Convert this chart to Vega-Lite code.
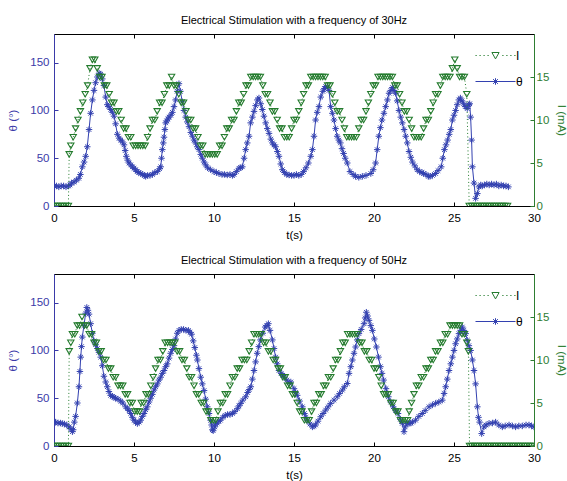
{
"$schema": "https://vega.github.io/schema/vega-lite/v6.json",
"background": "white",
"padding": {"left": 7, "top": 14, "right": 0, "bottom": 0},
"spacing": 13,
"datasets": {
"leg": [{"s": "I"}, {"s": "θ"}],
"th30": [{"t":0,"a":21},{"t":0.15,"a":21},{"t":0.3,"a":20},{"t":0.45,"a":21},{"t":0.6,"a":21},{"t":0.75,"a":20},{"t":0.9,"a":21},{"t":1.0,"a":22},{"t":1.1,"a":24},{"t":1.25,"a":25},{"t":1.4,"a":27},{"t":1.55,"a":29},{"t":1.65,"a":33},{"t":1.77,"a":41},{"t":1.88,"a":46},{"t":1.98,"a":52},{"t":2.08,"a":62},{"t":2.19,"a":80},{"t":2.29,"a":97},{"t":2.4,"a":111},{"t":2.5,"a":121},{"t":2.6,"a":129},{"t":2.71,"a":135},{"t":2.82,"a":139},{"t":2.92,"a":138},{"t":3.02,"a":133},{"t":3.12,"a":126},{"t":3.23,"a":114},{"t":3.33,"a":106},{"t":3.43,"a":104},{"t":3.54,"a":101},{"t":3.65,"a":98},{"t":3.75,"a":94},{"t":3.85,"a":86},{"t":3.96,"a":75},{"t":4.07,"a":71},{"t":4.17,"a":69},{"t":4.28,"a":67},{"t":4.375,"a":64},{"t":4.45,"a":58},{"t":4.52,"a":52},{"t":4.6,"a":48},{"t":4.69,"a":45},{"t":4.8,"a":43},{"t":4.9,"a":41},{"t":5.0,"a":39.5},{"t":5.1,"a":38},{"t":5.2,"a":36},{"t":5.3,"a":35},{"t":5.42,"a":34},{"t":5.55,"a":33},{"t":5.65,"a":32},{"t":5.73,"a":31},{"t":5.85,"a":32},{"t":6.0,"a":32},{"t":6.15,"a":33},{"t":6.3,"a":35},{"t":6.46,"a":36},{"t":6.6,"a":39},{"t":6.67,"a":41},{"t":6.72,"a":50},{"t":6.77,"a":59},{"t":6.83,"a":66},{"t":6.875,"a":72},{"t":6.93,"a":80},{"t":6.98,"a":87},{"t":7.05,"a":89},{"t":7.12,"a":91},{"t":7.19,"a":93},{"t":7.3,"a":95},{"t":7.4,"a":98},{"t":7.5,"a":104},{"t":7.6,"a":111},{"t":7.7,"a":120},{"t":7.81,"a":128},{"t":7.9,"a":120},{"t":8.02,"a":109},{"t":8.12,"a":100},{"t":8.23,"a":93},{"t":8.33,"a":88},{"t":8.44,"a":83},{"t":8.55,"a":77},{"t":8.65,"a":73},{"t":8.75,"a":69},{"t":8.85,"a":66},{"t":8.95,"a":62},{"t":9.06,"a":59},{"t":9.17,"a":54},{"t":9.27,"a":50},{"t":9.38,"a":46},{"t":9.48,"a":43},{"t":9.6,"a":40},{"t":9.79,"a":38},{"t":10.0,"a":36},{"t":10.15,"a":35},{"t":10.31,"a":34},{"t":10.5,"a":33},{"t":10.65,"a":33},{"t":10.83,"a":32.5},{"t":11.0,"a":33},{"t":11.15,"a":32},{"t":11.25,"a":33},{"t":11.4,"a":36},{"t":11.56,"a":39.5},{"t":11.67,"a":40},{"t":11.77,"a":41},{"t":11.88,"a":50},{"t":11.98,"a":59},{"t":12.08,"a":66},{"t":12.19,"a":73},{"t":12.29,"a":87},{"t":12.4,"a":93},{"t":12.5,"a":99},{"t":12.6,"a":105},{"t":12.71,"a":111},{"t":12.81,"a":113},{"t":12.92,"a":107},{"t":13.02,"a":101},{"t":13.12,"a":94},{"t":13.23,"a":87},{"t":13.33,"a":81},{"t":13.44,"a":76},{"t":13.55,"a":70},{"t":13.65,"a":66},{"t":13.75,"a":64},{"t":13.85,"a":62},{"t":13.96,"a":57},{"t":14.06,"a":52},{"t":14.17,"a":44},{"t":14.27,"a":38},{"t":14.4,"a":35},{"t":14.55,"a":33},{"t":14.69,"a":32.5},{"t":14.85,"a":32},{"t":15.0,"a":32},{"t":15.15,"a":33},{"t":15.3,"a":32},{"t":15.45,"a":33},{"t":15.6,"a":36},{"t":15.75,"a":40},{"t":15.9,"a":45},{"t":16.05,"a":52},{"t":16.15,"a":59},{"t":16.25,"a":73},{"t":16.35,"a":90},{"t":16.45,"a":98},{"t":16.56,"a":104},{"t":16.67,"a":114},{"t":16.8,"a":120},{"t":16.9,"a":123},{"t":16.98,"a":125},{"t":17.08,"a":124},{"t":17.19,"a":121},{"t":17.29,"a":104},{"t":17.4,"a":97},{"t":17.5,"a":90},{"t":17.6,"a":81},{"t":17.7,"a":73},{"t":17.8,"a":69},{"t":17.9,"a":66},{"t":18.0,"a":60},{"t":18.1,"a":55},{"t":18.2,"a":50},{"t":18.33,"a":45},{"t":18.5,"a":36},{"t":18.7,"a":33},{"t":18.85,"a":31},{"t":19.05,"a":30},{"t":19.27,"a":31},{"t":19.5,"a":32},{"t":19.8,"a":34},{"t":19.95,"a":38},{"t":20.1,"a":45},{"t":20.2,"a":59},{"t":20.3,"a":73},{"t":20.4,"a":82},{"t":20.5,"a":90},{"t":20.62,"a":97},{"t":20.73,"a":104},{"t":20.84,"a":111},{"t":20.94,"a":118},{"t":21.05,"a":121},{"t":21.15,"a":124},{"t":21.25,"a":121},{"t":21.35,"a":118},{"t":21.45,"a":110},{"t":21.56,"a":100},{"t":21.67,"a":93},{"t":21.77,"a":87},{"t":21.88,"a":80},{"t":21.98,"a":73},{"t":22.08,"a":66},{"t":22.19,"a":57},{"t":22.3,"a":51},{"t":22.4,"a":46},{"t":22.55,"a":42},{"t":22.7,"a":38},{"t":22.85,"a":36},{"t":23.0,"a":35},{"t":23.1,"a":34},{"t":23.25,"a":33},{"t":23.4,"a":31},{"t":23.5,"a":31},{"t":23.65,"a":32},{"t":23.85,"a":34},{"t":24.0,"a":37},{"t":24.2,"a":41},{"t":24.3,"a":50},{"t":24.4,"a":59},{"t":24.5,"a":64},{"t":24.6,"a":69},{"t":24.7,"a":75},{"t":24.8,"a":80},{"t":24.9,"a":90},{"t":25.0,"a":95},{"t":25.1,"a":100},{"t":25.2,"a":106},{"t":25.3,"a":111},{"t":25.4,"a":113},{"t":25.5,"a":110},{"t":25.6,"a":107},{"t":25.7,"a":104},{"t":25.83,"a":102},{"t":25.93,"a":106},{"t":25.98,"a":107},{"t":26.04,"a":93},{"t":26.1,"a":69},{"t":26.15,"a":41},{"t":26.25,"a":24},{"t":26.35,"a":8},{"t":26.46,"a":13},{"t":26.56,"a":20},{"t":26.67,"a":22},{"t":26.77,"a":21},{"t":26.9,"a":22},{"t":27.05,"a":23},{"t":27.2,"a":22},{"t":27.35,"a":23},{"t":27.5,"a":22},{"t":27.65,"a":23},{"t":27.8,"a":21},{"t":27.95,"a":22},{"t":28.1,"a":21},{"t":28.25,"a":21},{"t":28.4,"a":20}],
"i30": [{"t":0,"i":0},{"t":0.15,"i":0},{"t":0.3,"i":0},{"t":0.45,"i":0},{"t":0.6,"i":0},{"t":0.75,"i":0},{"t":0.9,"i":0},{"t":0.95,"i":6},{"t":1.05,"i":7},{"t":1.2,"i":8},{"t":1.35,"i":9},{"t":1.5,"i":10},{"t":1.65,"i":11},{"t":1.8,"i":12},{"t":1.95,"i":13},{"t":2.1,"i":14},{"t":2.25,"i":16},{"t":2.4,"i":17},{"t":2.55,"i":17},{"t":2.7,"i":16},{"t":2.85,"i":15},{"t":3.0,"i":15},{"t":3.15,"i":14},{"t":3.3,"i":14},{"t":3.45,"i":13},{"t":3.6,"i":12},{"t":3.75,"i":12},{"t":3.9,"i":11},{"t":4.05,"i":11},{"t":4.2,"i":10},{"t":4.35,"i":9},{"t":4.5,"i":9},{"t":4.65,"i":8},{"t":4.8,"i":8},{"t":4.95,"i":7},{"t":5.1,"i":7},{"t":5.25,"i":7},{"t":5.4,"i":7},{"t":5.55,"i":7},{"t":5.7,"i":7},{"t":5.85,"i":8},{"t":6.0,"i":9},{"t":6.15,"i":10},{"t":6.3,"i":10},{"t":6.45,"i":11},{"t":6.6,"i":12},{"t":6.75,"i":12},{"t":6.9,"i":13},{"t":7.05,"i":14},{"t":7.2,"i":14},{"t":7.35,"i":15},{"t":7.5,"i":14},{"t":7.65,"i":14},{"t":7.8,"i":13},{"t":7.95,"i":12},{"t":8.1,"i":12},{"t":8.25,"i":11},{"t":8.4,"i":10},{"t":8.55,"i":10},{"t":8.7,"i":9},{"t":8.85,"i":9},{"t":9.0,"i":8},{"t":9.15,"i":7},{"t":9.3,"i":7},{"t":9.45,"i":6},{"t":9.6,"i":6},{"t":9.75,"i":6},{"t":9.9,"i":6},{"t":10.05,"i":6},{"t":10.2,"i":6},{"t":10.35,"i":7},{"t":10.5,"i":7},{"t":10.65,"i":8},{"t":10.8,"i":9},{"t":10.95,"i":9},{"t":11.1,"i":10},{"t":11.25,"i":10},{"t":11.4,"i":11},{"t":11.55,"i":12},{"t":11.7,"i":12},{"t":11.85,"i":13},{"t":12.0,"i":14},{"t":12.15,"i":14},{"t":12.3,"i":15},{"t":12.45,"i":15},{"t":12.6,"i":15},{"t":12.75,"i":15},{"t":12.9,"i":15},{"t":13.05,"i":14},{"t":13.2,"i":13},{"t":13.35,"i":13},{"t":13.5,"i":12},{"t":13.65,"i":11},{"t":13.8,"i":11},{"t":13.95,"i":10},{"t":14.1,"i":9},{"t":14.25,"i":9},{"t":14.4,"i":8},{"t":14.55,"i":8},{"t":14.7,"i":8},{"t":14.85,"i":9},{"t":15.0,"i":10},{"t":15.15,"i":10},{"t":15.3,"i":11},{"t":15.45,"i":12},{"t":15.6,"i":13},{"t":15.75,"i":14},{"t":15.9,"i":14},{"t":16.05,"i":15},{"t":16.2,"i":15},{"t":16.35,"i":15},{"t":16.5,"i":15},{"t":16.65,"i":15},{"t":16.8,"i":15},{"t":16.95,"i":15},{"t":17.1,"i":14},{"t":17.25,"i":14},{"t":17.4,"i":13},{"t":17.55,"i":12},{"t":17.7,"i":11},{"t":17.85,"i":11},{"t":18.0,"i":10},{"t":18.15,"i":9},{"t":18.3,"i":8},{"t":18.45,"i":8},{"t":18.6,"i":8},{"t":18.75,"i":8},{"t":18.9,"i":8},{"t":19.05,"i":9},{"t":19.2,"i":10},{"t":19.35,"i":10},{"t":19.5,"i":11},{"t":19.65,"i":12},{"t":19.8,"i":13},{"t":19.95,"i":14},{"t":20.1,"i":14},{"t":20.25,"i":15},{"t":20.4,"i":15},{"t":20.55,"i":15},{"t":20.7,"i":15},{"t":20.85,"i":15},{"t":21.0,"i":15},{"t":21.15,"i":15},{"t":21.3,"i":14},{"t":21.45,"i":14},{"t":21.6,"i":13},{"t":21.75,"i":12},{"t":21.9,"i":11},{"t":22.05,"i":11},{"t":22.2,"i":10},{"t":22.35,"i":9},{"t":22.5,"i":8},{"t":22.65,"i":8},{"t":22.8,"i":8},{"t":22.95,"i":8},{"t":23.1,"i":9},{"t":23.25,"i":10},{"t":23.4,"i":10},{"t":23.55,"i":11},{"t":23.7,"i":12},{"t":23.85,"i":13},{"t":24.0,"i":13},{"t":24.15,"i":14},{"t":24.3,"i":15},{"t":24.45,"i":15},{"t":24.6,"i":15},{"t":24.75,"i":15},{"t":24.9,"i":16},{"t":25.05,"i":17},{"t":25.2,"i":16},{"t":25.35,"i":15},{"t":25.5,"i":15},{"t":25.65,"i":15},{"t":25.8,"i":13},{"t":25.95,"i":0},{"t":26.1,"i":0},{"t":26.25,"i":0},{"t":26.4,"i":0},{"t":26.55,"i":0},{"t":26.7,"i":0},{"t":26.85,"i":0},{"t":27.0,"i":0},{"t":27.15,"i":0},{"t":27.3,"i":0},{"t":27.45,"i":0},{"t":27.6,"i":0},{"t":27.75,"i":0},{"t":27.9,"i":0},{"t":28.05,"i":0},{"t":28.2,"i":0},{"t":28.35,"i":0}],
"th50": [{"t":0,"a":25},{"t":0.1,"a":25},{"t":0.25,"a":24},{"t":0.4,"a":24},{"t":0.52,"a":23.5},{"t":0.65,"a":23},{"t":0.8,"a":22},{"t":0.94,"a":20},{"t":1.05,"a":18},{"t":1.15,"a":15},{"t":1.2,"a":17},{"t":1.27,"a":25},{"t":1.35,"a":31},{"t":1.46,"a":45},{"t":1.56,"a":62},{"t":1.62,"a":78},{"t":1.67,"a":93},{"t":1.72,"a":104},{"t":1.77,"a":114},{"t":1.87,"a":126},{"t":1.98,"a":139},{"t":2.05,"a":145},{"t":2.12,"a":142},{"t":2.19,"a":138},{"t":2.29,"a":128},{"t":2.4,"a":118},{"t":2.5,"a":110},{"t":2.6,"a":106},{"t":2.71,"a":102},{"t":2.81,"a":98},{"t":2.92,"a":93},{"t":3.02,"a":84},{"t":3.12,"a":73},{"t":3.23,"a":67},{"t":3.33,"a":62},{"t":3.43,"a":57},{"t":3.54,"a":53},{"t":3.65,"a":52},{"t":3.75,"a":51},{"t":3.85,"a":50},{"t":4.0,"a":49},{"t":4.17,"a":47},{"t":4.3,"a":45},{"t":4.48,"a":41},{"t":4.6,"a":39},{"t":4.7,"a":37},{"t":4.79,"a":34},{"t":4.9,"a":30},{"t":5.0,"a":27},{"t":5.1,"a":25},{"t":5.21,"a":23.5},{"t":5.32,"a":25},{"t":5.42,"a":27},{"t":5.52,"a":31},{"t":5.625,"a":34},{"t":5.73,"a":38},{"t":5.83,"a":41},{"t":5.94,"a":46},{"t":6.04,"a":50},{"t":6.15,"a":54},{"t":6.25,"a":58.5},{"t":6.35,"a":62},{"t":6.46,"a":65},{"t":6.56,"a":69},{"t":6.67,"a":72},{"t":6.77,"a":76},{"t":6.875,"a":79},{"t":6.98,"a":83},{"t":7.08,"a":86},{"t":7.19,"a":92},{"t":7.29,"a":97},{"t":7.4,"a":101},{"t":7.5,"a":105},{"t":7.6,"a":112},{"t":7.7,"a":118},{"t":7.81,"a":121},{"t":7.95,"a":122},{"t":8.1,"a":122},{"t":8.25,"a":121},{"t":8.4,"a":121},{"t":8.5,"a":119},{"t":8.6,"a":117},{"t":8.7,"a":110},{"t":8.8,"a":103},{"t":8.9,"a":95},{"t":8.96,"a":90},{"t":9.06,"a":81},{"t":9.17,"a":72},{"t":9.27,"a":65},{"t":9.38,"a":58},{"t":9.48,"a":49},{"t":9.58,"a":41},{"t":9.69,"a":34},{"t":9.79,"a":27},{"t":9.85,"a":22},{"t":9.9,"a":17},{"t":9.95,"a":16},{"t":10.05,"a":20},{"t":10.1,"a":23},{"t":10.2,"a":24},{"t":10.3,"a":26},{"t":10.4,"a":27},{"t":10.55,"a":30},{"t":10.7,"a":32},{"t":10.85,"a":33},{"t":11.0,"a":33},{"t":11.15,"a":34},{"t":11.3,"a":36},{"t":11.46,"a":39},{"t":11.56,"a":42},{"t":11.67,"a":44.6},{"t":11.8,"a":48},{"t":11.98,"a":51.5},{"t":12.1,"a":56},{"t":12.2,"a":59},{"t":12.3,"a":62},{"t":12.4,"a":70},{"t":12.5,"a":79},{"t":12.6,"a":88},{"t":12.7,"a":97},{"t":12.8,"a":104},{"t":12.9,"a":111},{"t":13.05,"a":118},{"t":13.2,"a":124.5},{"t":13.3,"a":126},{"t":13.4,"a":128},{"t":13.5,"a":121},{"t":13.65,"a":111},{"t":13.75,"a":102},{"t":13.85,"a":93},{"t":13.95,"a":86},{"t":14.06,"a":79},{"t":14.2,"a":76},{"t":14.3,"a":74},{"t":14.4,"a":72},{"t":14.55,"a":69},{"t":14.7,"a":66},{"t":14.8,"a":67},{"t":15.0,"a":60},{"t":15.1,"a":56},{"t":15.2,"a":53},{"t":15.35,"a":47},{"t":15.52,"a":41},{"t":15.65,"a":34},{"t":15.75,"a":30},{"t":15.83,"a":27},{"t":16.0,"a":23},{"t":16.15,"a":20},{"t":16.25,"a":21},{"t":16.35,"a":22},{"t":16.5,"a":26},{"t":16.67,"a":30.6},{"t":16.82,"a":34},{"t":16.98,"a":37.6},{"t":17.13,"a":41},{"t":17.29,"a":44.6},{"t":17.5,"a":48},{"t":17.7,"a":51.5},{"t":17.85,"a":55},{"t":18.02,"a":58.5},{"t":18.15,"a":62},{"t":18.33,"a":65.4},{"t":18.44,"a":76},{"t":18.55,"a":83},{"t":18.65,"a":90},{"t":18.75,"a":97},{"t":18.85,"a":103.6},{"t":18.95,"a":111},{"t":19.06,"a":117.6},{"t":19.2,"a":122},{"t":19.375,"a":128},{"t":19.45,"a":134},{"t":19.52,"a":140},{"t":19.6,"a":136},{"t":19.69,"a":131.5},{"t":19.8,"a":126},{"t":19.9,"a":121},{"t":20.02,"a":112},{"t":20.15,"a":103.6},{"t":20.28,"a":93},{"t":20.4,"a":83},{"t":20.5,"a":76},{"t":20.6,"a":69},{"t":20.75,"a":60},{"t":20.9,"a":51.5},{"t":21.05,"a":46},{"t":21.2,"a":41},{"t":21.35,"a":37},{"t":21.5,"a":34},{"t":21.65,"a":28},{"t":21.77,"a":23.7},{"t":21.875,"a":15},{"t":21.95,"a":20},{"t":22.08,"a":23.7},{"t":22.19,"a":23.7},{"t":22.3,"a":24},{"t":22.4,"a":25},{"t":22.6,"a":27},{"t":22.8,"a":31},{"t":23.02,"a":34},{"t":23.2,"a":37},{"t":23.44,"a":41},{"t":23.65,"a":43},{"t":23.85,"a":44.6},{"t":24.05,"a":46},{"t":24.27,"a":48},{"t":24.38,"a":55},{"t":24.48,"a":62},{"t":24.58,"a":70},{"t":24.69,"a":79},{"t":24.8,"a":86},{"t":24.9,"a":93},{"t":25.0,"a":100},{"t":25.1,"a":107},{"t":25.2,"a":112},{"t":25.31,"a":117.6},{"t":25.42,"a":121},{"t":25.52,"a":124.5},{"t":25.62,"a":121},{"t":25.73,"a":117.6},{"t":25.83,"a":110.6},{"t":25.93,"a":105},{"t":26.04,"a":100},{"t":26.15,"a":90},{"t":26.25,"a":79},{"t":26.35,"a":65},{"t":26.46,"a":41},{"t":26.53,"a":30},{"t":26.6,"a":25},{"t":26.73,"a":13},{"t":26.875,"a":20},{"t":27.0,"a":22},{"t":27.19,"a":23.7},{"t":27.4,"a":24},{"t":27.6,"a":25},{"t":27.8,"a":22},{"t":28.02,"a":20},{"t":28.2,"a":21},{"t":28.44,"a":22},{"t":28.65,"a":21},{"t":28.85,"a":20},{"t":29.05,"a":21},{"t":29.27,"a":21},{"t":29.5,"a":22},{"t":29.69,"a":22},{"t":29.85,"a":21},{"t":30.0,"a":20}],
"i50": [{"t":0,"i":0},{"t":0.15,"i":0},{"t":0.3,"i":0},{"t":0.45,"i":0},{"t":0.6,"i":0},{"t":0.75,"i":0},{"t":0.9,"i":0},{"t":0.95,"i":11},{"t":1.05,"i":12},{"t":1.15,"i":13},{"t":1.3,"i":13},{"t":1.45,"i":14},{"t":1.6,"i":14},{"t":1.75,"i":15},{"t":1.9,"i":14},{"t":2.05,"i":14},{"t":2.2,"i":13},{"t":2.35,"i":13},{"t":2.5,"i":12},{"t":2.65,"i":12},{"t":2.8,"i":11},{"t":2.95,"i":11},{"t":3.1,"i":10},{"t":3.25,"i":10},{"t":3.4,"i":9},{"t":3.55,"i":9},{"t":3.7,"i":8},{"t":3.85,"i":8},{"t":4.0,"i":7},{"t":4.15,"i":7},{"t":4.3,"i":7},{"t":4.45,"i":6},{"t":4.6,"i":6},{"t":4.75,"i":5},{"t":4.9,"i":5},{"t":5.05,"i":4},{"t":5.2,"i":4},{"t":5.35,"i":4},{"t":5.45,"i":5},{"t":5.6,"i":5},{"t":5.75,"i":6},{"t":5.9,"i":6},{"t":6.05,"i":7},{"t":6.2,"i":8},{"t":6.35,"i":9},{"t":6.5,"i":10},{"t":6.65,"i":10},{"t":6.8,"i":11},{"t":6.95,"i":12},{"t":7.1,"i":12},{"t":7.25,"i":12},{"t":7.4,"i":12},{"t":7.55,"i":12},{"t":7.7,"i":11},{"t":7.85,"i":11},{"t":8.0,"i":10},{"t":8.15,"i":10},{"t":8.3,"i":9},{"t":8.45,"i":8},{"t":8.6,"i":8},{"t":8.75,"i":7},{"t":8.9,"i":6},{"t":9.05,"i":6},{"t":9.2,"i":5},{"t":9.35,"i":5},{"t":9.5,"i":4},{"t":9.65,"i":4},{"t":9.8,"i":3},{"t":9.95,"i":3},{"t":10.1,"i":3},{"t":10.25,"i":4},{"t":10.4,"i":5},{"t":10.55,"i":5},{"t":10.7,"i":6},{"t":10.85,"i":6},{"t":11.0,"i":7},{"t":11.15,"i":8},{"t":11.3,"i":8},{"t":11.45,"i":9},{"t":11.6,"i":9},{"t":11.75,"i":10},{"t":11.9,"i":10},{"t":12.05,"i":10},{"t":12.2,"i":11},{"t":12.35,"i":12},{"t":12.5,"i":13},{"t":12.65,"i":13},{"t":12.8,"i":13},{"t":12.95,"i":13},{"t":13.1,"i":12},{"t":13.25,"i":12},{"t":13.4,"i":11},{"t":13.55,"i":11},{"t":13.7,"i":10},{"t":13.85,"i":10},{"t":14.0,"i":9},{"t":14.15,"i":9},{"t":14.3,"i":8},{"t":14.45,"i":8},{"t":14.6,"i":7},{"t":14.75,"i":7},{"t":14.9,"i":6},{"t":15.05,"i":6},{"t":15.2,"i":5},{"t":15.35,"i":4},{"t":15.5,"i":4},{"t":15.65,"i":3},{"t":15.8,"i":3},{"t":15.95,"i":3},{"t":16.1,"i":4},{"t":16.25,"i":5},{"t":16.4,"i":5},{"t":16.55,"i":6},{"t":16.7,"i":6},{"t":16.85,"i":7},{"t":17.0,"i":7},{"t":17.15,"i":8},{"t":17.3,"i":8},{"t":17.45,"i":9},{"t":17.6,"i":10},{"t":17.75,"i":10},{"t":17.9,"i":11},{"t":18.05,"i":12},{"t":18.2,"i":12},{"t":18.35,"i":13},{"t":18.5,"i":13},{"t":18.65,"i":13},{"t":18.8,"i":13},{"t":18.95,"i":13},{"t":19.1,"i":12},{"t":19.25,"i":12},{"t":19.4,"i":11},{"t":19.55,"i":11},{"t":19.7,"i":10},{"t":19.85,"i":10},{"t":20.0,"i":9},{"t":20.15,"i":9},{"t":20.3,"i":8},{"t":20.45,"i":7},{"t":20.6,"i":6},{"t":20.75,"i":6},{"t":20.9,"i":6},{"t":21.05,"i":5},{"t":21.2,"i":5},{"t":21.35,"i":4},{"t":21.5,"i":4},{"t":21.65,"i":3},{"t":21.8,"i":3},{"t":21.95,"i":3},{"t":22.1,"i":3},{"t":22.2,"i":4},{"t":22.35,"i":5},{"t":22.5,"i":6},{"t":22.65,"i":7},{"t":22.8,"i":7},{"t":22.95,"i":8},{"t":23.1,"i":8},{"t":23.25,"i":9},{"t":23.4,"i":9},{"t":23.55,"i":10},{"t":23.7,"i":10},{"t":23.85,"i":11},{"t":24.0,"i":11},{"t":24.15,"i":12},{"t":24.3,"i":12},{"t":24.45,"i":13},{"t":24.6,"i":13},{"t":24.75,"i":14},{"t":24.9,"i":14},{"t":25.05,"i":14},{"t":25.2,"i":14},{"t":25.35,"i":14},{"t":25.5,"i":13},{"t":25.65,"i":13},{"t":25.8,"i":12},{"t":25.9,"i":11},{"t":25.97,"i":0},{"t":26.1,"i":0},{"t":26.25,"i":0},{"t":26.4,"i":0},{"t":26.55,"i":0},{"t":26.7,"i":0},{"t":26.85,"i":0},{"t":27.0,"i":0},{"t":27.15,"i":0},{"t":27.3,"i":0},{"t":27.45,"i":0},{"t":27.6,"i":0},{"t":27.75,"i":0},{"t":27.9,"i":0},{"t":28.05,"i":0},{"t":28.2,"i":0},{"t":28.35,"i":0},{"t":28.5,"i":0},{"t":28.65,"i":0},{"t":28.8,"i":0},{"t":28.95,"i":0},{"t":29.1,"i":0},{"t":29.25,"i":0},{"t":29.4,"i":0},{"t":29.55,"i":0},{"t":29.7,"i":0},{"t":29.85,"i":0},{"t":30,"i":0}]
},
"vconcat": [
{
"title": {"text": "Electrical Stimulation with a frequency of 30Hz"},
"width": 480, "height": 172,
"resolve": {"scale": {"y": "independent"}, "axis": {"x": "independent"}},
"layer": [
{"data": {"name": "th30"},
 "encoding": {
  "x": {"field": "t", "type": "quantitative", "scale": {"domain": [0, 30], "nice": false, "zero": false}, "axis": {"orient": "bottom", "values": [0,5,10,15,20,25,30], "title": "t(s)", "labelColor": "#000", "titleColor": "#000", "domainColor": "#000", "tickColor": "#000", "labelFlush": false, "labelPadding": 10, "titlePadding": 6}},
  "y": {"field": "a", "type": "quantitative", "scale": {"domain": [0, 180], "nice": false}, "axis": {"orient": "left", "values": [0,50,100,150], "title": "θ (°)", "labelColor": "#3a3aa8", "titleColor": "#3a3aa8", "domainColor": "#3a3aa8", "tickColor": "#3a3aa8", "labelPadding": 9, "titlePadding": 11}}
 },
 "layer": [
  {"mark": {"type": "line", "color": "#3341b0", "strokeWidth": 1, "clip": true}},
  {"mark": {"type": "point", "shape": "M-1,0L1,0M0,-1L0,1M-0.7,-0.7L0.7,0.7M-0.7,0.7L0.7,-0.7", "filled": false, "color": "#3341b0", "size": 42, "strokeWidth": 1, "opacity": 1, "clip": true}}
 ]},
{"data": {"name": "i30"},
 "encoding": {
  "x": {"field": "t", "type": "quantitative", "scale": {"domain": [0, 30], "nice": false, "zero": false}, "axis": {"orient": "top", "values": [0,5,10,15,20,25,30], "labels": false, "title": null, "domainColor": "#000", "tickColor": "#000"}},
  "y": {"field": "i", "type": "quantitative", "scale": {"domain": [0, 20], "nice": false}, "axis": {"orient": "right", "values": [0,5,10,15], "title": "I (mA)", "labelColor": "#2e7d32", "titleColor": "#2e7d32", "domainColor": "#2e7d32", "tickColor": "#2e7d32", "labelPadding": 6, "titlePadding": 7}}
 },
 "layer": [
  {"mark": {"type": "line", "color": "#237b2d", "strokeWidth": 1, "strokeDash": [1, 2.5], "clip": true}},
  {"mark": {"type": "point", "shape": "triangle-down", "filled": false, "color": "#237b2d", "size": 40, "strokeWidth": 1.1, "opacity": 1, "clip": true}}
 ]},
{"data": {"name": "leg"},
 "mark": {"type": "point", "filled": false, "opacity": 0},
 "encoding": {
  "color": {"field": "s", "type": "nominal", "scale": {"domain": ["I", "θ"], "range": ["#237b2d", "#3341b0"]}, "legend": {"title": null, "orient": "top-right", "offset": 11, "symbolSize": 400, "symbolStrokeWidth": 1, "symbolOpacity": 1, "labelFontSize": 12, "labelOffset": 10, "rowPadding": 9, "padding": 0, "labelColor": "#000"}},
  "shape": {"field": "s", "type": "nominal", "scale": {"domain": ["I", "θ"], "range": ["M-2,0L-1.88,0M-1.6,0L-1.48,0M-1.2,0L-1.08,0M-0.8,0L-0.68,0M0.68,0L0.8,0M1.08,0L1.2,0M1.48,0L1.6,0M1.88,0L2,0M-0.36,-0.3L0.36,-0.3L0,0.34Z", "M-2,0L2,0M-0.33,0L0.33,0M0,-0.33L0,0.33M-0.24,-0.24L0.24,0.24M-0.24,0.24L0.24,-0.24"]}, "legend": {"title": null, "orient": "top-right", "offset": 11, "symbolSize": 400, "symbolStrokeWidth": 1, "symbolOpacity": 1, "labelFontSize": 12, "labelOffset": 10, "rowPadding": 9, "padding": 0, "labelColor": "#000"}}
 }}
]
},
{
"title": {"text": "Electrical Stimulation with a frequency of 50Hz"},
"width": 480, "height": 172,
"resolve": {"scale": {"y": "independent"}, "axis": {"x": "independent"}},
"layer": [
{"data": {"name": "th50"},
 "encoding": {
  "x": {"field": "t", "type": "quantitative", "scale": {"domain": [0, 30], "nice": false, "zero": false}, "axis": {"orient": "bottom", "values": [0,5,10,15,20,25,30], "title": "t(s)", "labelColor": "#000", "titleColor": "#000", "domainColor": "#000", "tickColor": "#000", "labelFlush": false, "labelPadding": 10, "titlePadding": 6}},
  "y": {"field": "a", "type": "quantitative", "scale": {"domain": [0, 180], "nice": false}, "axis": {"orient": "left", "values": [0,50,100,150], "title": "θ (°)", "labelColor": "#3a3aa8", "titleColor": "#3a3aa8", "domainColor": "#3a3aa8", "tickColor": "#3a3aa8", "labelPadding": 9, "titlePadding": 11}}
 },
 "layer": [
  {"mark": {"type": "line", "color": "#3341b0", "strokeWidth": 1, "clip": true}},
  {"mark": {"type": "point", "shape": "M-1,0L1,0M0,-1L0,1M-0.7,-0.7L0.7,0.7M-0.7,0.7L0.7,-0.7", "filled": false, "color": "#3341b0", "size": 42, "strokeWidth": 1, "opacity": 1, "clip": true}}
 ]},
{"data": {"name": "i50"},
 "encoding": {
  "x": {"field": "t", "type": "quantitative", "scale": {"domain": [0, 30], "nice": false, "zero": false}, "axis": {"orient": "top", "values": [0,5,10,15,20,25,30], "labels": false, "title": null, "domainColor": "#000", "tickColor": "#000"}},
  "y": {"field": "i", "type": "quantitative", "scale": {"domain": [0, 20], "nice": false}, "axis": {"orient": "right", "values": [0,5,10,15], "title": "I (mA)", "labelColor": "#2e7d32", "titleColor": "#2e7d32", "domainColor": "#2e7d32", "tickColor": "#2e7d32", "labelPadding": 6, "titlePadding": 7}}
 },
 "layer": [
  {"mark": {"type": "line", "color": "#237b2d", "strokeWidth": 1, "strokeDash": [1, 2.5], "clip": true}},
  {"mark": {"type": "point", "shape": "triangle-down", "filled": false, "color": "#237b2d", "size": 40, "strokeWidth": 1.1, "opacity": 1, "clip": true}}
 ]},
{"data": {"name": "leg"},
 "mark": {"type": "point", "filled": false, "opacity": 0},
 "encoding": {
  "color": {"field": "s", "type": "nominal", "scale": {"domain": ["I", "θ"], "range": ["#237b2d", "#3341b0"]}, "legend": {"title": null, "orient": "top-right", "offset": 11, "symbolSize": 400, "symbolStrokeWidth": 1, "symbolOpacity": 1, "labelFontSize": 12, "labelOffset": 10, "rowPadding": 9, "padding": 0, "labelColor": "#000"}},
  "shape": {"field": "s", "type": "nominal", "scale": {"domain": ["I", "θ"], "range": ["M-2,0L-1.88,0M-1.6,0L-1.48,0M-1.2,0L-1.08,0M-0.8,0L-0.68,0M0.68,0L0.8,0M1.08,0L1.2,0M1.48,0L1.6,0M1.88,0L2,0M-0.36,-0.3L0.36,-0.3L0,0.34Z", "M-2,0L2,0M-0.33,0L0.33,0M0,-0.33L0,0.33M-0.24,-0.24L0.24,0.24M-0.24,0.24L0.24,-0.24"]}, "legend": {"title": null, "orient": "top-right", "offset": 11, "symbolSize": 400, "symbolStrokeWidth": 1, "symbolOpacity": 1, "labelFontSize": 12, "labelOffset": 10, "rowPadding": 9, "padding": 0, "labelColor": "#000"}}
 }}
]
}
],
"resolve": {"scale": {"color": "independent", "shape": "independent"}, "legend": {"color": "independent", "shape": "independent"}},
"config": {
 "font": "Liberation Sans",
 "view": {"stroke": null},
 "axis": {"grid": false, "labelFontSize": 11.5, "titleFontSize": 11.5, "titleFontWeight": "normal", "labelFont": "Liberation Sans", "titleFont": "Liberation Sans", "tickSize": -4, "domainWidth": 1, "tickWidth": 1, "labelPadding": 4, "titlePadding": 4},
 "title": {"fontSize": 11, "fontWeight": "normal", "font": "Liberation Sans", "color": "#000", "offset": 8},
 "legend": {"labelFont": "Liberation Sans"}
}
}
